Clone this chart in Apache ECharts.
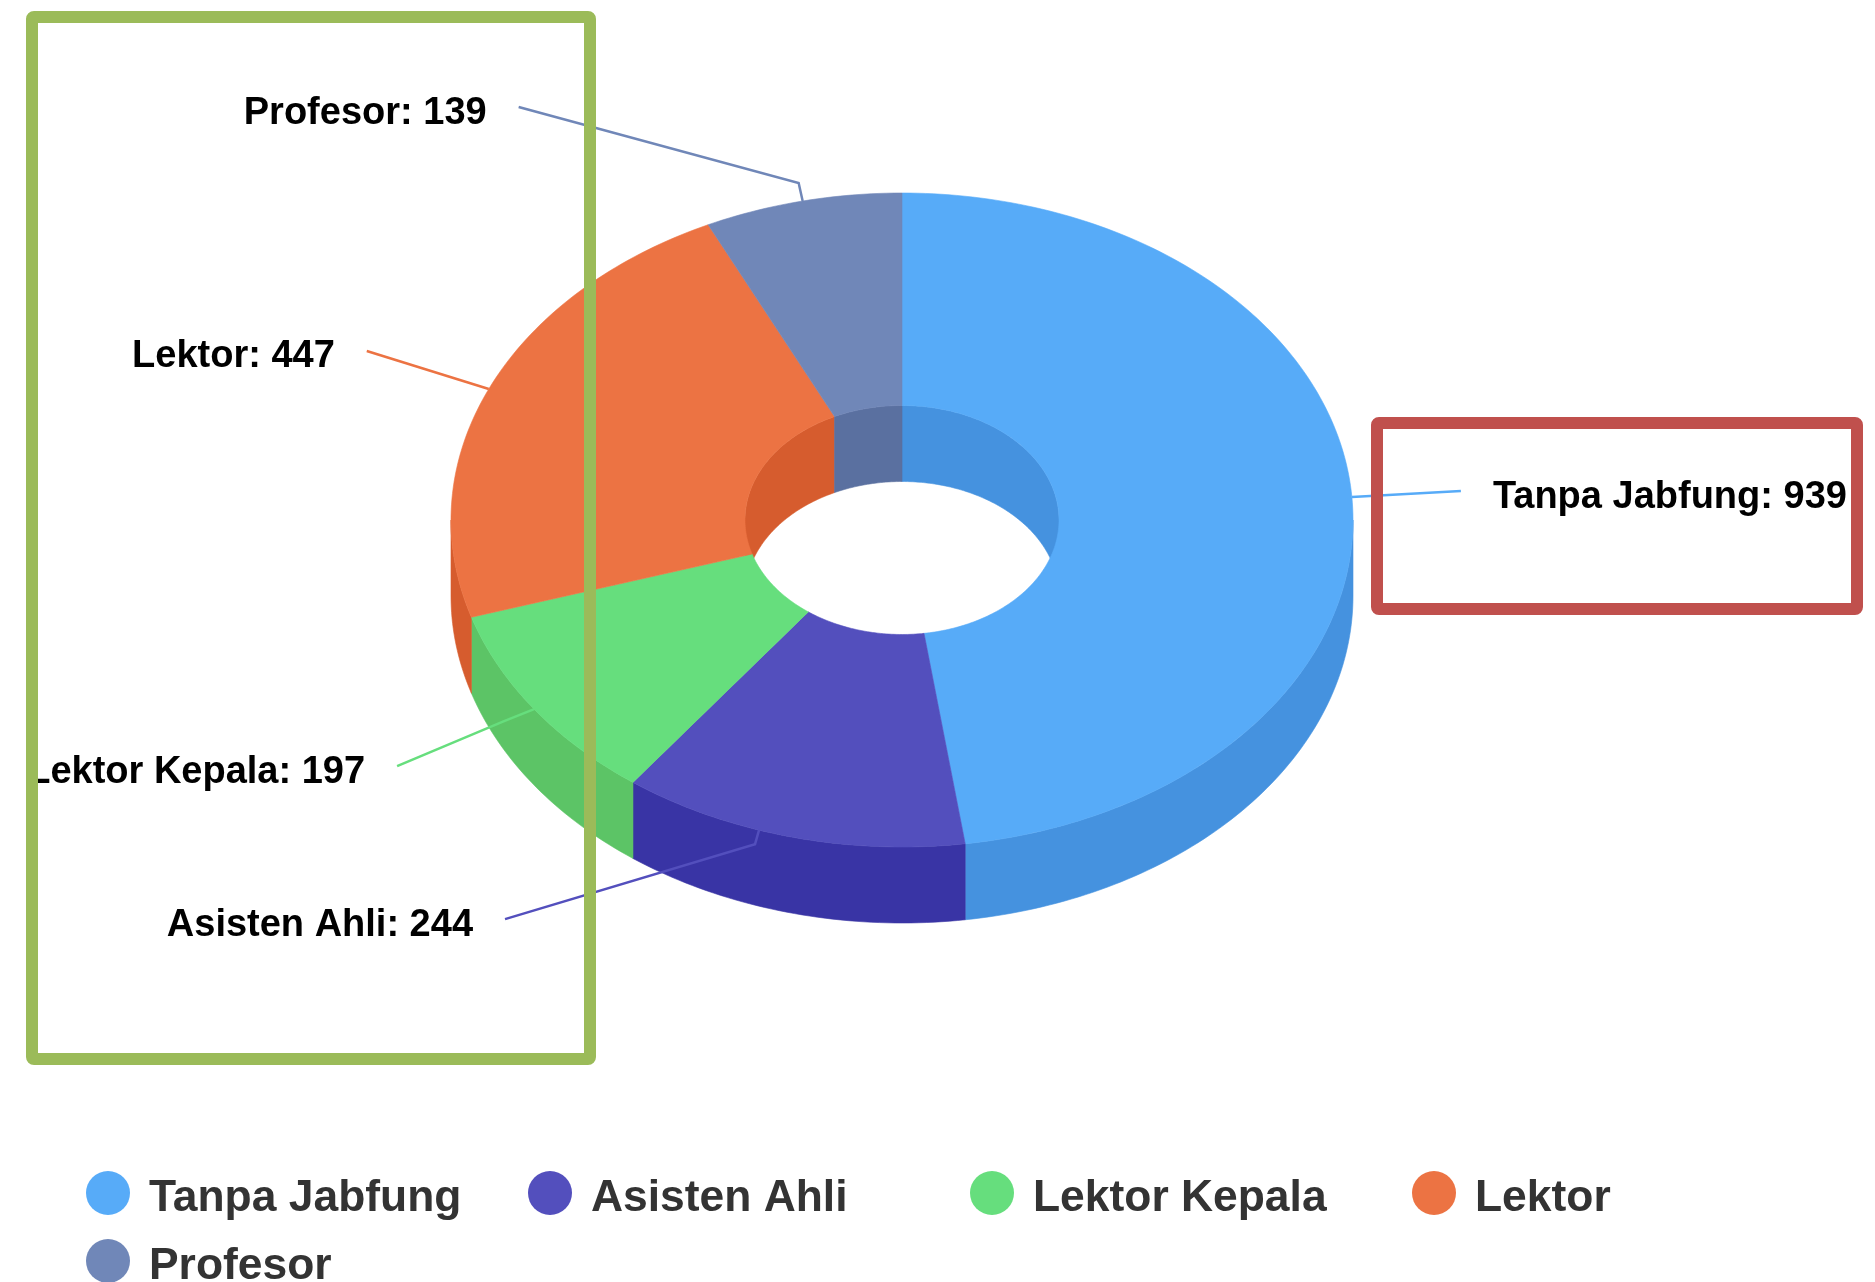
<!DOCTYPE html>
<html>
<head>
<meta charset="utf-8">
<title>Jabatan Fungsional</title>
<style>
html,body{margin:0;padding:0;background:#fff;}
#myChart{width:1875px;height:1282px;}
</style>
<script src="https://cdn.jsdelivr.net/npm/echarts@6/dist/echarts.min.js"></script>
</head>
<body>
<div id="myChart"></div>
<script>
/*data*/
var categories = ['Tanpa Jabfung', 'Asisten Ahli', 'Lektor Kepala', 'Lektor', 'Profesor'];
var values = [939, 244, 197, 447, 139];

/*colors*/
var topColors = ['#57ABF8', '#534FBD', '#66DE7D', '#EC7343', '#7087B8'];
var sideColors = ['#4592DF', '#3934A5', '#5CC466', '#D65C2E', '#5A70A0'];

/*leader line per slice: angle shift on the rim, optional elbow offset, end offset*/
var leaderShift = [0, 4.2, 0, 0, 0];
var leaderElbow = [null, [-4, 14], [-30, 12], null, [-4, -18]];
var leaderEnd = [[109, -6], [-254, 89], [-137, 57], [-122, -38], [-284, -94]];

/*pie geometry*/
var cx = 902, cy = 520;
var rx = 451, ry = 327;
var innerRx = 157, innerRy = 114.5;
var depth = 76;

var total = 0;
for (var i = 0; i < values.length; i++) { total += values[i]; }

function startAngle(index){
    var sum = 0;
    for (var i = 0; i < index; i++) { sum += values[i]; }
    return sum / total * 360;
}

// angle in degrees, clockwise from the top
function rim(a, rX, rY, dy){
    var t = a * Math.PI / 180;
    return [cx + rX * Math.sin(t), cy - rY * Math.cos(t) + (dy || 0)];
}

function arc(from, to, rX, rY, dy){
    var pts = [];
    var n = Math.max(2, Math.ceil(Math.abs(to - from)));
    for (var i = 0; i <= n; i++) {
        pts.push(rim(from + (to - from) * i / n, rX, rY, dy));
    }
    return pts;
}

function face(points, color, z2){
    return {
        type: 'polygon',
        z2: z2,
        shape: {points: points},
        style: {fill: color, stroke: color, lineWidth: 0.6}
    };
}

// wall between the arc and the same arc moved down
function wall(from, to, rX, rY, color, z2){
    return face(arc(from, to, rX, rY, 0).concat(arc(to, from, rX, rY, depth)), color, z2);
}

function renderSlice(params, api){
    var index = params.seriesIndex;
    var a0 = startAngle(index);
    var a1 = a0 + api.value(0) / total * 360;
    var mid = (a0 + a1) / 2;
    var side = sideColors[index];
    var children = [];

    // hole wall shows on the back half only
    if (Math.min(a1, 90) > a0) {
        children.push(wall(a0, Math.min(a1, 90), innerRx, innerRy, side, 1));
    }
    if (a1 > Math.max(a0, 270)) {
        children.push(wall(Math.max(a0, 270), a1, innerRx, innerRy, side, 1));
    }
    // outer wall shows on the front half only
    if (Math.min(a1, 270) > Math.max(a0, 90)) {
        children.push(wall(Math.max(a0, 90), Math.min(a1, 270), rx, ry, side, 2));
    }
    children.push(face(arc(a0, a1, rx, ry).concat(arc(a1, a0, innerRx, innerRy)), topColors[index], 3));

    // leader line and label
    var p0 = rim(mid + leaderShift[index], rx, ry);
    var pts = [p0];
    if (leaderElbow[index]) {
        pts.push([p0[0] + leaderElbow[index][0], p0[1] + leaderElbow[index][1]]);
    }
    var end = [p0[0] + leaderEnd[index][0], p0[1] + leaderEnd[index][1]];
    pts.push(end);
    children.push({
        type: 'polyline',
        z2: 4,
        shape: {points: pts},
        style: {fill: null, stroke: topColors[index], lineWidth: 2.5}
    });
    var toRight = leaderEnd[index][0] > 0;
    children.push({
        type: 'text',
        z2: 5,
        style: {
            text: categories[index] + ': ' + api.value(0),
            x: end[0] + (toRight ? 32 : -32),
            y: end[1] + 6,
            align: toRight ? 'left' : 'right',
            verticalAlign: 'middle',
            fill: '#000',
            fontFamily: '"Liberation Sans", Arial, sans-serif',
            fontWeight: 'bold',
            fontSize: 38
        }
    });
    return {type: 'group', children: children};
}

var series = [];
for (var s = 0; s < categories.length; s++) {
    series.push({
        type: 'custom',
        name: categories[s],
        silent: true,
        coordinateSystem: 'none',
        itemStyle: {color: topColors[s]},
        data: [[values[s]]],
        renderItem: renderSlice
    });
}

/*one legend per name so the columns line up*/
var legends = [];
for (var l = 0; l < categories.length; l++) {
    legends.push({
        data: [categories[l]],
        left: 86 + 442 * (l % 4),
        top: 1171 + 68 * Math.floor(l / 4),
        icon: 'circle',
        itemWidth: 44,
        itemHeight: 44,
        padding: 0,
        selectedMode: false,
        textStyle: {
            rich: {t: {padding: [12, 0, 0, 0]}},
            padding: [0, 0, 0, 14],
            color: '#333',
            fontFamily: '"Liberation Sans", Arial, sans-serif',
            fontWeight: 'bold',
            fontSize: 44.4
        },
        formatter: '{t|{name}}'
    });
}

var myChart = echarts.init(document.getElementById('myChart'));
myChart.setOption({
    backgroundColor: '#fff',
    animation: false,
    legend: legends,
    graphic: [
        {
            type: 'rect',
            z: 100,
            silent: true,
            shape: {x: 32, y: 17, width: 558, height: 1042, r: 2},
            style: {fill: null, stroke: '#9BBB59', lineWidth: 12}
        },
        {
            type: 'rect',
            z: 100,
            silent: true,
            shape: {x: 1377, y: 423, width: 480, height: 186, r: 2},
            style: {fill: null, stroke: '#C0504D', lineWidth: 12}
        }
    ],
    series: series
});
</script>
</body>
</html>
